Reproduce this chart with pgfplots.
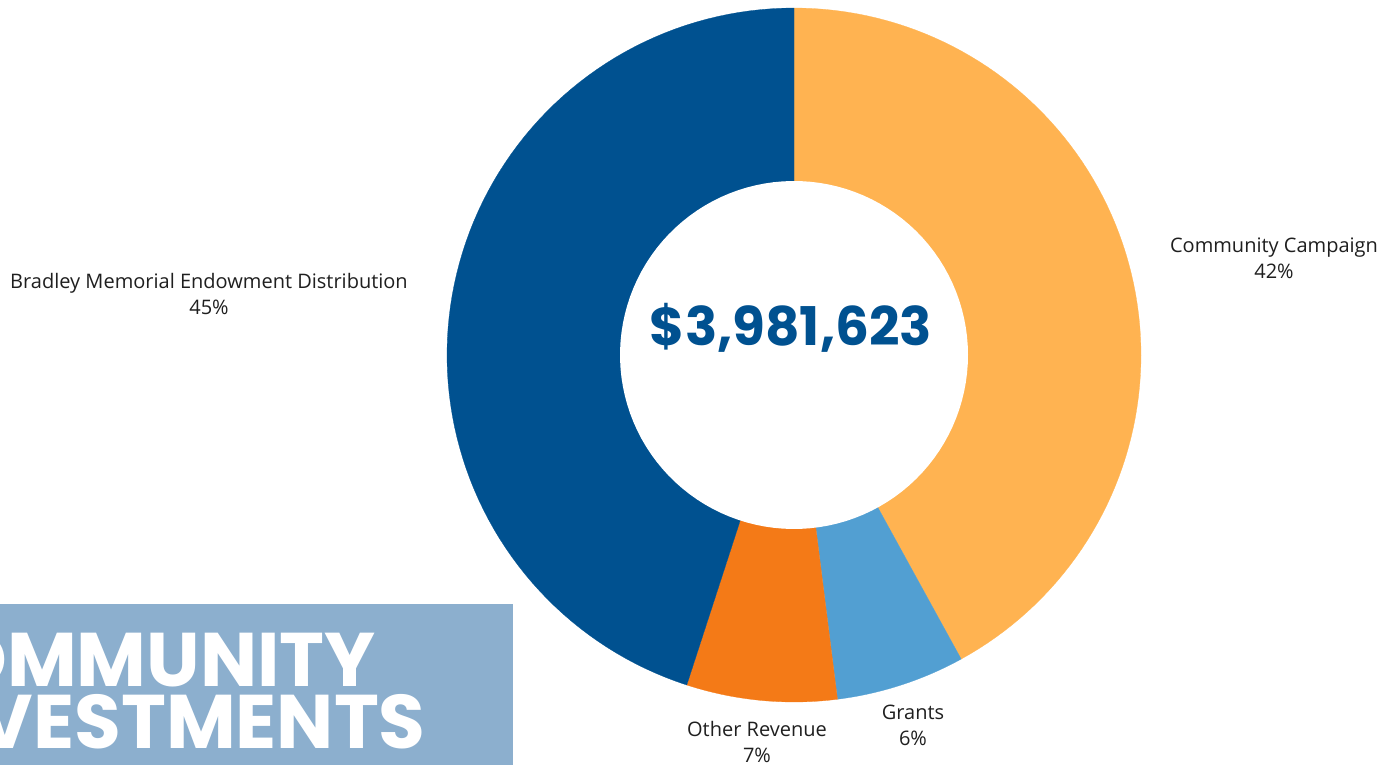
\documentclass[border=0pt]{standalone}
\usepackage{pgfplots}
\pgfplotsset{compat=1.18}
\usepackage{pgfplotstable}
\usepackage{fontspec}
\setmainfont{Open Sans}
\newfontfamily\headfont{Poppins}
\definecolor{ccOrange}{HTML}{FFB351}
\definecolor{grBlue}{HTML}{529FD2}
\definecolor{orRed}{HTML}{F47A17}
\definecolor{bmBlue}{HTML}{005190}
\definecolor{bannerC}{HTML}{8CAFCE}
\pgfplotstableread{
label value
CommunityCampaign 42
Grants 6
OtherRevenue 7
Bradley 45
}\shares
\pgfplotstablegetelem{0}{value}\of\shares \pgfmathsetmacro\aB{90-3.6*\pgfplotsretval}
\pgfplotstablegetelem{1}{value}\of\shares \pgfmathsetmacro\aC{\aB-3.6*\pgfplotsretval}
\pgfplotstablegetelem{2}{value}\of\shares \pgfmathsetmacro\aD{\aC-3.6*\pgfplotsretval}
\pgfplotstablegetelem{3}{value}\of\shares \pgfmathsetmacro\aE{\aD-3.6*\pgfplotsretval}
\begin{document}
\begin{tikzpicture}
\clip (0,0) rectangle (1047pt,573.75pt);
\begin{axis}[at={(0,0)}, anchor=south west, scale only axis, width=1047pt, height=573.75pt,
  xmin=0, xmax=1396, ymin=0, ymax=765, hide axis, clip=false]
\fill[bannerC] (axis cs:0,0) rectangle (axis cs:513,161);
\node[anchor=base east, text=white, inner sep=0pt, text height=40pt, text depth=0pt, font=\headfont\bfseries\fontsize{57}{57}\selectfont] at (axis cs:376,79) {COMMUNITY};
\node[anchor=base east, text=white, inner sep=0pt, text height=40pt, text depth=0pt, font=\headfont\bfseries\fontsize{57}{57}\selectfont] at (axis cs:426,17) {INVESTMENTS};
\addplot[fill=ccOrange, draw=ccOrange, line width=0.2pt, domain=\aB:90, samples=90, variable=\t] ({794+347*cos(t)},{410+347*sin(t)}) -- (axis cs:794,410) -- cycle;
\addplot[fill=grBlue, draw=grBlue, line width=0.2pt, domain=\aC:\aB, samples=30, variable=\t] ({794+347*cos(t)},{410+347*sin(t)}) -- (axis cs:794,410) -- cycle;
\addplot[fill=orRed, draw=orRed, line width=0.2pt, domain=\aD:\aC, samples=30, variable=\t] ({794+347*cos(t)},{410+347*sin(t)}) -- (axis cs:794,410) -- cycle;
\addplot[fill=bmBlue, draw=bmBlue, line width=0.2pt, domain=\aE:\aD, samples=90, variable=\t] ({794+347*cos(t)},{410+347*sin(t)}) -- (axis cs:794,410) -- cycle;
\addplot[fill=white, draw=none, domain=0:360, samples=120, variable=\t] ({794+174*cos(t)},{410+174*sin(t)}) -- cycle;
\node[anchor=base, text=bmBlue, inner sep=0pt, font=\headfont\bfseries\fontsize{40}{40}\selectfont] at (axis cs:791,419) {\$3,981,623};
\node[align=center, text=black!88, inner sep=0pt, font=\fontsize{15}{19.5}\selectfont] at (axis cs:209,471) {Bradley Memorial Endowment Distribution\\45\%};
\node[align=center, text=black!88, inner sep=0pt, font=\fontsize{15}{19.5}\selectfont] at (axis cs:1274,507) {Community Campaign\\42\%};
\node[align=center, text=black!88, inner sep=0pt, font=\fontsize{15}{19.5}\selectfont] at (axis cs:913,40) {Grants\\6\%};
\node[align=center, text=black!88, inner sep=0pt, font=\fontsize{15}{19.5}\selectfont] at (axis cs:757,23) {Other Revenue\\7\%};
\end{axis}
\end{tikzpicture}
\end{document}
